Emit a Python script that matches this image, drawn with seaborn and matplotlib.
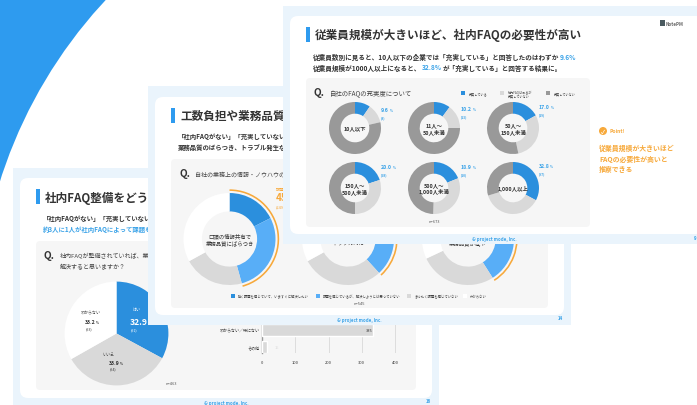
import matplotlib
matplotlib.use("Agg")
import matplotlib.pyplot as plt
import pandas as pd
import seaborn as sns
from matplotlib.patches import Circle, FancyBboxPatch, Rectangle

# ---------- data ----------
back_pie_labels = ["はい", "いいえ", "わからない"]
back_pie_values = [32.9, 33.9, 33.2]
back_pie_counts = [91, 94, 93]
back_bar_categories = ["わからない／特にない", "その他"]
back_bar_values = [335, 15]
back_bar_ticks = [0, 100, 200, 300, 400]

mid_legend = ["強く課題を感じていて、いますぐに解決したい", "課題を感じているが、解決しようとは思っていない",
              "まったく課題を感じていない", "わからない"]
mid_strong = [17.5, 15.0, 16.0]
mid_some = [28.2, 23.2, 25.0]
mid_none = [21.3, 28.8, 27.0]
mid_unknown = [33.0, 33.0, 32.0]

size_names = ["10人以下", "11人〜\n50人未満", "50人〜\n150人未満",
              "150人〜\n500人未満", "500人〜\n1,000人未満", "1,000人以上"]
faq_full = [9.6, 10.2, 17.0, 20.0, 18.9, 32.8]
faq_partial = [11.8, 14.8, 29.7, 30.0, 31.6, 37.5]
faq_not = [78.6, 75.0, 53.3, 50.0, 49.5, 29.7]
faq_counts = [8, 13, 19, 28, 10, 97]
faq_legend = ["充実している", "社内FAQはあるが\n充実していない", "充実していない"]

# ---------- style ----------
sns.set_theme(style="white")
plt.rcParams["font.family"] = ["Noto Sans CJK JP", "DejaVu Sans"]
W, H = 697, 406
fig = plt.figure(figsize=(W / 100, H / 100), dpi=100, facecolor="white")
rend = fig.canvas.get_renderer()

BLUE = "#2B8FDD"; SKY = "#58AEF7"; ACC = "#2E9BEF"; LG = "#D9D9D9"; DG = "#999999"
FRAME = "#EAF4FC"; PANEL = "#F6F6F6"; ORANGE = "#F7A93B"; INK = "#333333"; LINK = "#3BA3E8"


def axes_px(x0, y0, x1, y1, z):
    a = fig.add_axes([x0 / W, 1 - y1 / H, (x1 - x0) / W, (y1 - y0) / H], zorder=z)
    a.patch.set_alpha(0)
    return a


def layer(z):
    a = axes_px(0, 0, W, H, z)
    a.set_xlim(0, W); a.set_ylim(H, 0); a.axis("off")
    return a


def T(a, x, y, s, px, color=INK, bold=False, ha="left", va="center", **kw):
    return a.text(x, y, s, fontsize=px * 0.72, color=color, ha=ha, va=va,
                  fontweight="bold" if bold else "normal", clip_on=False, **kw)


def rich(a, x, y, parts, bold=True):
    for s, px, color in parts:
        t = T(a, x, y, s, px, color, bold, va="baseline")
        x += t.get_window_extent(rend).width + 0.6


def rbox(a, x0, y0, x1, y1, r, color):
    a.add_patch(FancyBboxPatch((x0, y0), x1 - x0, y1 - y0, boxstyle=f"round,pad=0,rounding_size={r}",
                               fc=color, ec="none", mutation_aspect=1))


def slide(a, outer, inner, panel, accent_y):
    x0, y0, x1, y1 = outer
    a.add_patch(Rectangle((x0, y0), x1 - x0, y1 - y0, fc=FRAME, ec="none"))
    rbox(a, *inner, 8, "white")
    rbox(a, *panel, 4, PANEL)
    a.add_patch(Rectangle((panel[0], accent_y), 4, 15, fc=ACC, ec="none"))


def ring(cx, cy, R, z, values, colors, width, arc=None):
    lim = 1.12
    a = axes_px(cx - R * lim, cy - R * lim, cx + R * lim, cy + R * lim, z)
    a.pie(values, colors=colors, startangle=90, counterclock=False, radius=1,
          wedgeprops=dict(width=width, linewidth=0))
    if arc is not None:
        a.pie([arc, 100 - arc], colors=[ORANGE, "none"], startangle=90, counterclock=False,
              radius=1.08, wedgeprops=dict(width=0.035, linewidth=0))
    a.set_xlim(-lim, lim); a.set_ylim(-lim, lim)
    return a


# ---------- background and back slide ----------
L0 = layer(0)
L0.add_patch(Rectangle((0, 0), 115, 190, fc=ACC, ec="none"))
L0.add_patch(Circle((453, 325), 475, fc="white", ec="none"))
slide(L0, (13, 169, 439, 406), (20, 179, 432, 399), (36, 242, 416, 391), 190)
T(L0, 45, 198, "社内FAQ整備をどう考えるか", 11.6, bold=True)
T(L0, 43, 219, "「社内FAQがない」「充実していない」と回答した方のうち", 6.4, bold=True)
T(L0, 43, 230, "約3人に1人が社内FAQによって課題を解決できると回答", 6.4, LINK, True)
T(L0, 44, 256, "Q.", 10, bold=True)
T(L0, 60, 256, "社内FAQが整備されていれば、業務上の課題が", 6, "#444444")
T(L0, 60, 267, "解決すると思いますか？", 6, "#444444")
T(L0, 171, 384, "n=463", 4, "#555555", ha="center")
T(L0, 226, 403, "© project mode, Inc.", 4.4, LINK, True, ha="center")
T(L0, 428, 402, "16", 4.4, LINK, True, ha="center")

pie_ax = axes_px(62, 280, 171, 389, 1)
pie_ax.pie(back_pie_values, colors=[BLUE, LG, "white"], startangle=90, counterclock=False,
           radius=1, wedgeprops=dict(linewidth=0))
pie_ax.set_xlim(-1.05, 1.05); pie_ax.set_ylim(-1.05, 1.05)

# bars through seaborn
bar_ax = axes_px(262, 322, 400, 354, 1)
df = pd.DataFrame({"cat": back_bar_categories, "val": back_bar_values})
sns.barplot(data=df, y="cat", x="val", orient="h", color=LG, saturation=1, width=0.65, ax=bar_ax, zorder=3)
bar_ax.set_xlim(0, 415)
bar_ax.set_ylim(1.353, -0.53)
bar_ax.set_xticks(back_bar_ticks)
bar_ax.set_xlabel(""); bar_ax.set_ylabel("")
bar_ax.grid(axis="x", color="#DDDDDD", lw=0.7, zorder=0)
bar_ax.set_axisbelow(True)
bar_ax.tick_params(axis="x", labelsize=2.9, length=0, pad=5, labelcolor="#333333")
bar_ax.tick_params(axis="y", labelsize=2.9, length=0, pad=1.5, labelcolor="#333333")
for s in ["top", "right", "bottom"]:
    bar_ax.spines[s].set_visible(False)
bar_ax.spines["left"].set_color("#999999"); bar_ax.spines["left"].set_linewidth(1)
bar_ax.text(back_bar_values[0] - 3, 0, str(back_bar_values[0]), fontsize=2.9, color="#333333", ha="right", va="center", zorder=5)
bar_ax.text(back_bar_values[1] + 23, 1, str(back_bar_values[1]), fontsize=2.9, color="#DDDDDD", ha="left", va="center", zorder=5)

L1 = layer(2)
T(L1, 137, 310, back_pie_labels[0], 4, "white", ha="center")
rich(L1, 130, 325, [(f"{back_pie_values[0]}", 8.5, "white"), ("%", 4, "white")])
T(L1, 134, 330.5, f"({back_pie_counts[0]})", 3.6, "white", ha="center")
T(L1, 108, 355, back_pie_labels[1], 4, "#444444", ha="center")
rich(L1, 109, 365, [(f"{back_pie_values[1]}", 5.2, INK), ("%", 3, INK)])
T(L1, 113, 369.5, f"({back_pie_counts[1]})", 3.6, "#444444", ha="center")
T(L1, 91, 313, back_pie_labels[2], 4, "#444444", ha="center")
rich(L1, 85, 324, [(f"{back_pie_values[2]}", 5.2, INK), ("%", 3, INK)])
T(L1, 89, 329, f"({back_pie_counts[2]})", 3.6, "#444444", ha="center")

# ---------- middle slide ----------
L2 = layer(3)
slide(L2, (148, 87, 571, 326), (155, 98, 564, 316), (171, 160, 548, 309), 109)
T(L2, 180, 116, "工数負担や業務品質の課題が社内で発生している", 11.6, bold=True)
T(L2, 178, 137, "「社内FAQがない」「充実していない」と回答した方の多くが課題を実感", 6.4, bold=True)
T(L2, 178, 148, "業務品質のばらつき、トラブル発生などが課題に", 6.4, bold=True)
T(L2, 179, 174, "Q.", 10, bold=True)
T(L2, 195, 175, "自社の業務上の情報・ノウハウの共有について", 6, "#444444")
mid_colors = [BLUE, SKY, LG, "white"]
leg_x = [233, 318, 409, 465]
for x, c, s in zip(leg_x, mid_colors, mid_legend):
    L2.add_patch(Rectangle((x - 2, 295), 4, 4, fc=c, ec="none"))
    T(L2, x + 5, 297, s, 3.35, "#444444")
T(L2, 359, 304, "n=545", 4, "#555555", ha="center")
T(L2, 359, 320, "© project mode, Inc.", 4.4, LINK, True, ha="center")
T(L2, 560, 319, "14", 4.4, LINK, True, ha="center")

mid_cx = [229.5, 348, 468]
mid_names = ["口頭の情報共有で\n業務品質にばらつき", "ノウハウ属人化による\nトラブル対応", "引継ぎが進まず\n業務品質が低下"]
for i, cx in enumerate(mid_cx):
    vals = [mid_strong[i], mid_some[i], mid_none[i], mid_unknown[i]]
    a = ring(cx, 240, 46, 4, vals, mid_colors, 0.4, arc=mid_strong[i] + mid_some[i])
    a.text(0, 0, mid_names[i], fontsize=3.9, color=INK, ha="center", va="center", linespacing=1.35)

L3 = layer(5)
T(L3, 276, 189, "課題に感じている", 4.2, ORANGE)
T(L3, 276, 198, "45.7%", 10, ORANGE, True)
T(L3, 276, 207, "(249)", 4, ORANGE)

# ---------- front slide ----------
L4 = layer(6)
slide(L4, (283, 7, 700, 245), (290, 17, 704, 235), (306, 79, 590, 228), 28)
T(L4, 315, 35, "従業員規模が大きいほど、社内FAQの必要性が高い", 11.6, bold=True)
rich(L4, 313, 59.5, [("従業員数別に見ると、10人以下の企業では「充実している」と回答したのはわずか", 6.6, INK),
                     (f"{faq_full[0]}%", 6.6, LINK)])
rich(L4, 313, 70.5, [("従業員規模が1000人以上になると、", 6.6, INK), (f"{faq_full[5]}%", 6.6, LINK),
                     ("が「充実している」と回答する結果に。", 6.6, INK)])
T(L4, 314, 93, "Q.", 10, bold=True)
T(L4, 330, 94, "自社のFAQの充実度について", 6.4, "#444444")
for x, c, s in zip([463, 502, 548], [BLUE, LG, DG], faq_legend):
    L4.add_patch(Rectangle((x - 2, 92), 4.4, 4.4, fc=c, ec="none"))
    T(L4, x + 6, 94, s, 3.1, "#444444", linespacing=1.15)
T(L4, 434, 222, "n=673", 4, "#555555", ha="center")
T(L4, 494, 239, "© project mode, Inc.", 4.4, LINK, True, ha="center")
T(L4, 695, 239, "9", 4.4, LINK, True, ha="center")
L4.add_patch(Rectangle((660, 21), 5, 6, fc="#4A5A5F", ec="none"))
T(L4, 666, 24, "NotePM", 4.6, "#666666", True)
L4.add_patch(Circle((603, 132), 4, fc=ORANGE, ec="none"))
T(L4, 603, 132, "✓", 5.5, "white", True, ha="center")
T(L4, 610, 132, "Point!", 5, ORANGE, True)
for y, s in zip([148, 159, 170], ["従業員規模が大きいほど", "FAQの必要性が高いと", "推察できる"]):
    T(L4, 599, y, s, 6.9, ORANGE, True)

front_cx = [355, 434, 513] * 2
front_cy = [129] * 3 + [189] * 3
lab_x = [381, 461, 539] * 2
lab_y = [112, 111, 109, 169.5, 169, 168]
for i in range(6):
    a = ring(front_cx[i], front_cy[i], 26, 7, [faq_full[i], faq_partial[i], faq_not[i]], [BLUE, LG, DG], 0.45)
    a.text(0, 0, size_names[i], fontsize=3.9, color=INK, ha="center", va="center", linespacing=1.3, fontweight="bold")

L5 = layer(8)
for i in range(6):
    rich(L5, lab_x[i], lab_y[i], [(f"{faq_full[i]:.1f}", 5.2, LINK), ("%", 3, LINK)])
    T(L5, lab_x[i], lab_y[i] + 6, f"({faq_counts[i]})", 3.3, LINK, True)

fig.savefig("out.png", dpi=100, facecolor="white")
